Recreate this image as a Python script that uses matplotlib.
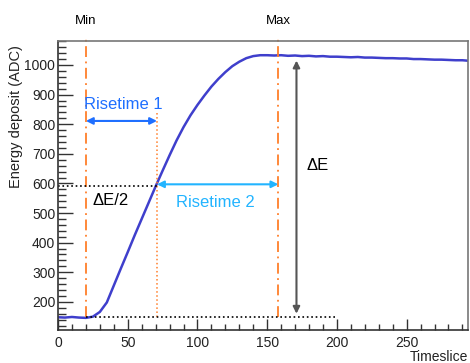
import matplotlib
matplotlib.use('Agg')

import matplotlib.pyplot as plt
from matplotlib.ticker import MultipleLocator
import numpy as np

plt.rcParams['font.family'] = ['Liberation Sans', 'DejaVu Sans']

# pulse, one value every 5 timeslices
timeslice = np.arange(0, 300, 5)
energy = [148, 147, 149, 147, 146, 150, 166, 198, 255, 312,
          368, 425, 480, 535, 590, 643, 695, 745, 790, 830,
          865, 897, 927, 953, 976, 996, 1011, 1023, 1030, 1033,
          1033, 1032, 1033, 1031, 1032, 1030, 1031, 1029, 1030, 1028,
          1028, 1027, 1026, 1027, 1025, 1025, 1024, 1023, 1023, 1022,
          1022, 1020, 1020, 1019, 1018, 1018, 1017, 1016, 1016, 1014]

t_min = 20
t_half = 71
t_max = 158
e_base = 148
e_half = 590
e_top = 1015
e_bottom = 160

orange = '#ff7f2a'
blue1 = '#1f6fff'
blue2 = '#22b4ff'
grey = '#555555'

fig = plt.figure(figsize=(4.7, 3.63), dpi=100)
ax = fig.add_axes([58 / 470, 33 / 363, 410 / 470, 289 / 363])

ax.plot(timeslice, energy, color='#3f3fcc', lw=1.8)

# min / max markers
ax.plot([t_min, t_min], [e_base, 1092], color=orange, lw=1.3,
        ls=(0, (6, 2.5, 1, 2.5)), clip_on=False)
ax.plot([t_max, t_max], [e_base, 1095], color=orange, lw=1.3,
        ls=(0, (6, 2.5, 1, 2.5)), clip_on=False)
ax.plot([t_half, t_half], [e_base, 840], color=orange, lw=1.1, ls=':')
ax.text(t_min, 1150, 'Min', ha='center', va='center', fontsize=9.5, clip_on=False)
ax.text(t_max, 1150, 'Max', ha='center', va='center', fontsize=9.5, clip_on=False)

# reference levels
ax.plot([0, t_half], [e_half, e_half], color='black', lw=1.2, ls=':')
ax.plot([t_min, 200], [e_base, e_base], color='black', lw=1.2, ls=':')

# rise times
ax.annotate('', xy=(t_min, 811), xytext=(t_half, 811),
            arrowprops=dict(arrowstyle='<|-|>', color=blue1, lw=1.5,
                            mutation_scale=10, shrinkA=0, shrinkB=0))
ax.text(46.5, 868, 'Risetime 1', color=blue1, ha='center', va='center', fontsize=12)
ax.annotate('', xy=(t_half, 597), xytext=(t_max, 597),
            arrowprops=dict(arrowstyle='<|-|>', color=blue2, lw=1.5,
                            mutation_scale=10, shrinkA=0, shrinkB=0))
ax.text(113, 536, 'Risetime 2', color=blue2, ha='center', va='center', fontsize=12)

# amplitude
ax.annotate('', xy=(171, e_top), xytext=(171, e_bottom),
            arrowprops=dict(arrowstyle='<|-|>', color=grey, lw=1.5,
                            mutation_scale=10, shrinkA=0, shrinkB=0))
ax.text(178, 662, 'ΔE', ha='left', va='center', fontsize=12)
ax.text(25, 542, 'ΔE/2', ha='left', va='center', fontsize=12)

ax.set_xlim(0, 294)
ax.set_ylim(105, 1081)
ax.xaxis.set_major_locator(MultipleLocator(50))
ax.xaxis.set_minor_locator(MultipleLocator(10))
ax.yaxis.set_major_locator(MultipleLocator(100))
ax.yaxis.set_minor_locator(MultipleLocator(20))
ax.set_yticks([200, 300, 400, 500, 600, 700, 800, 900, 1000])
ax.tick_params(axis='both', which='both', direction='in', colors='#333333',
               labelcolor='#222222', labelsize=10, width=1)
ax.tick_params(axis='y', which='major', length=11, pad=2)
ax.tick_params(axis='y', which='minor', length=6)
ax.tick_params(axis='x', which='major', length=8, pad=4)
ax.tick_params(axis='x', which='minor', length=4)
for side in ['top', 'right']:
    ax.spines[side].set_color('#777777')
for side in ['left', 'bottom']:
    ax.spines[side].set_color('#333333')
for s in ax.spines.values():
    s.set_linewidth(1.2)

fig.text(16 / 470, 1 - 45 / 363, 'Energy deposit (ADC)', rotation=90,
         ha='center', va='top', fontsize=10.5, color='#222222')
fig.text(468 / 470, 1 - 357 / 363, 'Timeslice', ha='right', va='center',
         fontsize=10, color='#222222')

fig.savefig('out.png', dpi=100)
